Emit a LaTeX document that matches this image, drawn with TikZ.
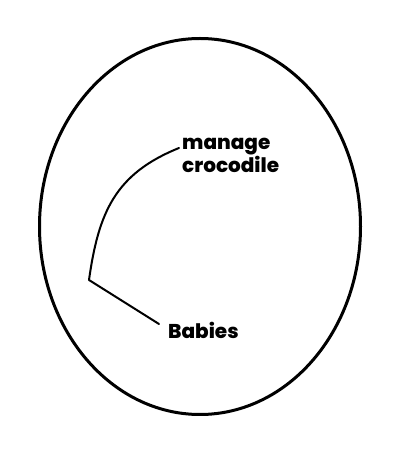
\documentclass[tikz,border=0pt]{standalone}
\usepackage{fontspec}
\setmainfont{Poppins}[BoldFont={Poppins ExtraBold}]

\begin{document}
\begin{tikzpicture}[x=1pt, y=1pt,
		word/.style={font=\fontsize{20}{23}\selectfont\bfseries, align=left, inner sep=3pt, anchor=west},
		link/.style={line width=2pt, line join=round, line cap=round}]
				\useasboundingbox (0,0) rectangle (420,455);
				\draw[line width=3pt] (200,228.5) ellipse [x radius=160.5, y radius=188];
				\node[word] (croc) at (179,300) {manage\\crocodile};
				\node[word] (babies) at (165,125) {Babies};
				\coordinate (kink) at (89,175);
				\draw[link] ([yshift=7pt]croc.west) to[out=202, in=82, looseness=1.1] (kink) -- ([xshift=-6pt, yshift=6pt]babies.west);
			\end{tikzpicture}
\end{document}
